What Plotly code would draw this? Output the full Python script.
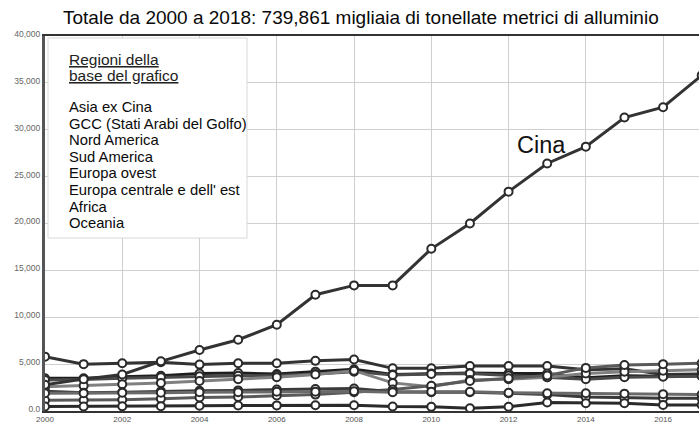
import plotly.graph_objects as go

years = list(range(2000, 2019))

cina = [2800, 3400, 3900, 5300, 6500, 7600, 9200, 12400, 13400, 13400, 17300, 20000, 23400, 26400, 28200, 31300, 32400, 35800, 36500]
nord_america = [5800, 5000, 5100, 5200, 4950, 5100, 5100, 5350, 5500, 4550, 4550, 4800, 4800, 4800, 4400, 4500, 3900, 3950, 4000]
europa_centrale_est = [3500, 3500, 3650, 3750, 4000, 4050, 3950, 4200, 4450, 3900, 4000, 4050, 4000, 4000, 3550, 3750, 3700, 3800, 3800]
europa_ovest = [3300, 3350, 3500, 3600, 3700, 3750, 3800, 3950, 4200, 3850, 3950, 4000, 3800, 3600, 3400, 3600, 3650, 3700, 3750]
asia_ex_cina = [2600, 2700, 2850, 3000, 3200, 3400, 3600, 3900, 4300, 3000, 2600, 3300, 3400, 3600, 4000, 4200, 4300, 4400, 4500]
gcc = [1150, 1150, 1200, 1300, 1450, 1500, 1650, 1750, 2000, 2300, 2700, 3200, 3500, 3800, 4600, 4900, 5000, 5100, 5200]
sud_america = [2100, 1950, 2000, 2100, 2150, 2200, 2300, 2350, 2400, 2050, 2000, 2000, 1900, 1750, 1500, 1400, 1350, 1350, 1400]
oceania = [1900, 1900, 1950, 1950, 2000, 2000, 2050, 2050, 2100, 2000, 2050, 2050, 1950, 1900, 1900, 1850, 1800, 1750, 1800]
africa = [480, 480, 500, 520, 560, 580, 600, 620, 620, 480, 460, 300, 450, 900, 820, 820, 650, 650, 650]

series = [
    ("Nord America", nord_america, "#333333"),
    ("Europa centrale e dell' est", europa_centrale_est, "#1e1e1e"),
    ("Europa ovest", europa_ovest, "#4a4a4a"),
    ("Asia ex Cina", asia_ex_cina, "#808080"),
    ("GCC (Stati Arabi del Golfo)", gcc, "#5a5a5a"),
    ("Sud America", sud_america, "#3a3a3a"),
    ("Oceania", oceania, "#6a6a6a"),
    ("Africa", africa, "#2a2a2a"),
    ("Cina", cina, "#333333"),
]

legend_title = ["Regioni della", "base del grafico"]
legend_items = ["Asia ex Cina", "GCC (Stati Arabi del Golfo)", "Nord America", "Sud America",
                "Europa ovest", "Europa centrale e dell' est", "Africa", "Oceania"]

ytick_vals = [0, 5000, 10000, 15000, 20000, 25000, 30000, 35000, 40000]
ytick_text = ["0.0", "5,000", "10,000", "15,000", "20,000", "25,000", "30,000", "35,000", "40,000"]
xtick_vals = [2000, 2002, 2004, 2006, 2008, 2010, 2012, 2014, 2016]

title_text = "Totale da 2000 a 2018: 739,861 migliaia di tonellate metrici di alluminio"

fig = go.Figure()
for name, vals, col in series:
    fig.add_trace(go.Scatter(
        x=years, y=vals, name=name, mode="lines+markers",
        line=dict(color=col, width=3),
        marker=dict(symbol="circle", size=8, color="white", line=dict(color="#2a2a2a", width=2)),
        showlegend=False, cliponaxis=True,
    ))

W, H = 699, 427
L, R, T, B = 45, 0, 36, 16
pw, ph = W - L - R, H - T - B

def px(x):
    return (x - L) / pw

def py(y):
    return (H - B - y) / ph

shapes = [
    dict(type="rect", xref="paper", yref="paper", x0=px(48), x1=px(247), y0=py(238), y1=py(38),
         fillcolor="white", line=dict(color="#d8d8d8", width=1), layer="above"),
]

FONT = "Liberation Sans, Arial"
annotations = [
    dict(text=title_text, xref="paper", yref="paper", x=px(361), y=py(17), xanchor="center",
         yanchor="middle", showarrow=False, font=dict(family=FONT, size=19, color="#0a0a0a")),
    dict(text="Cina", x=2012.84, y=28400, xref="x", yref="y", showarrow=False, xanchor="center",
         yanchor="middle", font=dict(family=FONT, size=23.5, color="#111111")),
]
for i, t in enumerate(legend_title):
    annotations.append(dict(text="<u>" + t + "</u>", xref="paper", yref="paper", x=px(67), y=py(60 + 15 * i),
                            xanchor="left", yanchor="middle", showarrow=False,
                            font=dict(family=FONT, size=15.5, color="#222222")))
for i, t in enumerate(legend_items):
    annotations.append(dict(text=t, xref="paper", yref="paper", x=px(67), y=py(107 + 16.6 * i),
                            xanchor="left", yanchor="middle", showarrow=False,
                            font=dict(family=FONT, size=14.8, color="#0a0a0a")))

fig.update_layout(
    width=W, height=H,
    margin=dict(l=L, r=R, t=T, b=B, pad=0),
    paper_bgcolor="white", plot_bgcolor="white",
    font=dict(family=FONT),
    shapes=shapes, annotations=annotations,
    xaxis=dict(range=[2000, 2016.93], tickvals=xtick_vals, ticktext=[str(v) for v in xtick_vals],
               tickfont=dict(size=8, color="#555555"), showgrid=True, gridcolor="#cfcfcf", gridwidth=1,
               showline=True, linecolor="#333333", linewidth=2, mirror=True, zeroline=False, ticks="",
               automargin=False, ticklabelstandoff=-1, fixedrange=True),
    yaxis=dict(range=[0, 40000], tickvals=ytick_vals, ticktext=ytick_text,
               tickfont=dict(size=8.5, color="#666666"), showgrid=True, gridcolor="#cfcfcf", gridwidth=1,
               showline=True, linecolor="#555555", linewidth=3, zeroline=False, ticks="",
               automargin=False, ticklabelshift=-2, fixedrange=True),
)

fig.write_html("out.html", post_script="document.body.style.margin='0';document.body.style.overflow='hidden';",
               config={"displayModeBar": False})
